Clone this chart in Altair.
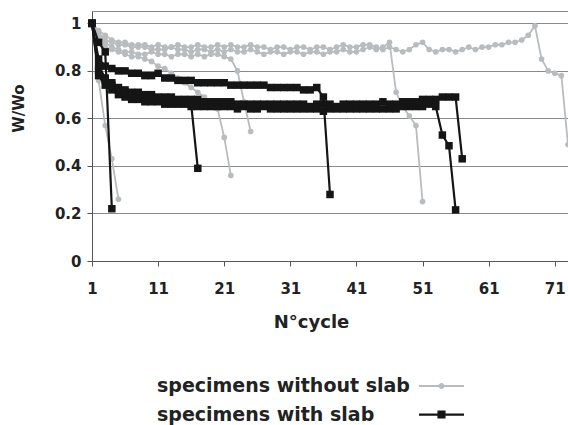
import altair as alt
import pandas as pd

LBL_WO = "specimens without slab"
LBL_W = "specimens with slab"
GRAY = "#b8bcbe"
BLACK = "#151515"

X_TICKS = [1, 11, 21, 31, 41, 51, 61, 71]
Y_TICKS = [0, 0.2, 0.4, 0.6, 0.8, 1.0]

# W/Wo per cycle (cycle 1, 2, 3, ...) for each specimen without slab
wo_a = [1.00, 0.76, 0.57, 0.43, 0.26]
wo_b = [1.00, 0.93, 0.90, 0.89, 0.88, 0.87, 0.86, 0.86, 0.85, 0.84,
        0.82, 0.81, 0.79, 0.77, 0.75, 0.73, 0.71, 0.69, 0.66, 0.64,
        0.52, 0.36]
wo_c = [1.00, 0.95, 0.92, 0.90, 0.89, 0.88, 0.88, 0.87, 0.87, 0.88,
        0.87, 0.87, 0.86, 0.87, 0.87, 0.86, 0.87, 0.86, 0.87, 0.87,
        0.86, 0.85, 0.80, 0.67, 0.545]
wo_d = [1.00, 0.96, 0.93, 0.92, 0.91, 0.91, 0.90, 0.90, 0.90, 0.89,
        0.89, 0.89, 0.90, 0.89, 0.89, 0.88, 0.89, 0.89, 0.88, 0.89,
        0.88, 0.89, 0.88, 0.88, 0.89, 0.88, 0.87, 0.88, 0.88, 0.87,
        0.88, 0.88, 0.87, 0.88, 0.88, 0.87, 0.88, 0.88, 0.89, 0.88,
        0.88, 0.89, 0.90, 0.89, 0.90, 0.92, 0.71, 0.65, 0.61, 0.57,
        0.25]
wo_e = [1.00, 0.97, 0.95, 0.93, 0.92, 0.92, 0.91, 0.91, 0.91, 0.90,
        0.91, 0.90, 0.90, 0.91, 0.90, 0.90, 0.91, 0.90, 0.90, 0.91,
        0.90, 0.91, 0.90, 0.90, 0.91, 0.90, 0.90, 0.89, 0.90, 0.90,
        0.89, 0.90, 0.90, 0.89, 0.90, 0.90, 0.89, 0.90, 0.91, 0.90,
        0.90, 0.91, 0.91, 0.90, 0.89, 0.90, 0.89, 0.88, 0.89, 0.91,
        0.92, 0.89, 0.88, 0.89, 0.89, 0.88, 0.89, 0.90, 0.89, 0.90,
        0.90, 0.91, 0.91, 0.92, 0.92, 0.93, 0.95, 0.99, 0.85, 0.80,
        0.79, 0.78, 0.49]

# W/Wo per cycle for each specimen with slab
w_a = [1.00, 0.92, 0.88, 0.22]
w_b = [1.00, 0.85, 0.82, 0.81, 0.80, 0.80, 0.79, 0.79, 0.78, 0.78,
       0.79, 0.77, 0.77, 0.76, 0.76, 0.76, 0.75, 0.75, 0.75, 0.75,
       0.75, 0.74, 0.74, 0.74, 0.74, 0.74, 0.74, 0.73, 0.73, 0.73,
       0.73, 0.73, 0.72, 0.72, 0.73, 0.69, 0.28]
w_c = [1.00, 0.80, 0.76, 0.74, 0.72, 0.71, 0.70, 0.70, 0.69, 0.69,
       0.68, 0.68, 0.68, 0.67, 0.67, 0.66, 0.39]
w_d = [1.00, 0.78, 0.74, 0.72, 0.70, 0.69, 0.68, 0.68, 0.67, 0.67,
       0.67, 0.66, 0.66, 0.66, 0.66, 0.65, 0.65, 0.65, 0.65, 0.65,
       0.65, 0.65, 0.64, 0.65, 0.64, 0.64, 0.65, 0.64, 0.64, 0.64,
       0.64, 0.64, 0.64, 0.64, 0.64, 0.63, 0.64, 0.64, 0.64, 0.64,
       0.64, 0.64, 0.64, 0.64, 0.64, 0.64, 0.64, 0.65, 0.65, 0.65,
       0.65, 0.66, 0.65, 0.53, 0.485, 0.215]
w_e = [1.00, 0.82, 0.77, 0.75, 0.73, 0.72, 0.71, 0.71, 0.70, 0.70,
       0.69, 0.69, 0.69, 0.68, 0.68, 0.68, 0.68, 0.67, 0.67, 0.67,
       0.67, 0.67, 0.66, 0.66, 0.66, 0.66, 0.66, 0.66, 0.66, 0.66,
       0.66, 0.66, 0.66, 0.65, 0.66, 0.66, 0.66, 0.65, 0.66, 0.66,
       0.66, 0.66, 0.66, 0.66, 0.67, 0.66, 0.66, 0.67, 0.67, 0.67,
       0.68, 0.68, 0.68, 0.69, 0.69, 0.69, 0.43]

series = [
    (LBL_WO, "wo_a", wo_a), (LBL_WO, "wo_b", wo_b), (LBL_WO, "wo_c", wo_c),
    (LBL_WO, "wo_d", wo_d), (LBL_WO, "wo_e", wo_e),
    (LBL_W, "w_a", w_a), (LBL_W, "w_b", w_b), (LBL_W, "w_c", w_c),
    (LBL_W, "w_d", w_d), (LBL_W, "w_e", w_e),
]
rows = []
for group, spec, vals in series:
    for i, v in enumerate(vals):
        rows.append({"cycle": i + 1, "value": v, "specimen": spec, "group": group})
df = pd.DataFrame(rows)

FONT = "DejaVu Sans"

x_enc = alt.X(
    "cycle:Q",
    scale=alt.Scale(domain=[1, 73], nice=False, zero=False),
    axis=alt.Axis(
        values=X_TICKS, format="d", title="N°cycle", grid=False,
        labelOverlap=False, labelFlush=False, tickSize=5, labelPadding=15,
        titleX=219, titleY=66, titleBaseline="alphabetic",
    ),
)
y_enc = alt.Y(
    "value:Q",
    scale=alt.Scale(domain=[0, 1.052], nice=False),
    axis=alt.Axis(
        values=Y_TICKS, format="~g", title="W/Wo", grid=True,
        tickSize=5, labelPadding=6,
        titleX=-74, titleY=97, titleAngle=270, titleAlign="center",
        titleBaseline="middle",
    ),
)

base = alt.Chart(df).encode(x=x_enc, y=y_enc, detail="specimen:N")
wo = base.transform_filter(alt.datum.group == LBL_WO)
wi = base.transform_filter(alt.datum.group == LBL_W)

gray_lines = wo.mark_line(strokeWidth=1.8, color=GRAY)
gray_pts = wo.mark_circle(size=32, opacity=1, color=GRAY)
black_lines = wi.mark_line(strokeWidth=2.2, color=BLACK)
black_pts = wi.mark_square(size=56, opacity=1, color=BLACK)

# legend symbols: a short line with the series marker in its middle
SYM_WO = ("M-1.5,-0.06H1.5V0.06H-1.5Z "
          "M-0.2,0A0.2,0.2 0 1,1 0.2,0A0.2,0.2 0 1,1 -0.2,0Z")
SYM_W = "M-1.5,-0.075H1.5V0.075H-1.5Z M-0.27,-0.27H0.27V0.27H-0.27Z"


def make_legend():
    return alt.Legend(
        title=None, orient="none", legendX=333.5, legendY=359,
        direction="vertical", symbolSize=900, labelAlign="left",
        labelOffset={"expr": "-300.5"}, labelLimit=500,
        rowPadding=2.5,
        labelFont=FONT, labelFontWeight="bold", labelFontSize=19,
        labelColor="#222",
    )


legend_layer = alt.Chart(df).transform_filter("false").mark_point(
    filled=True, opacity=1
).encode(
    x=alt.X("cycle:Q"),
    y=alt.Y("value:Q"),
    fill=alt.Fill(
        "group:N",
        scale=alt.Scale(domain=[LBL_WO, LBL_W], range=[GRAY, BLACK]),
        legend=make_legend(),
    ),
    shape=alt.Shape(
        "group:N",
        scale=alt.Scale(domain=[LBL_WO, LBL_W], range=[SYM_WO, SYM_W]),
        legend=make_legend(),
    ),
)

chart = alt.layer(gray_lines, gray_pts, black_lines, black_pts, legend_layer).properties(
    width=476, height=250,
    autosize=alt.AutoSizeParams(type="none"),
    padding={"left": 92, "top": 11, "right": 0, "bottom": 164},
    background="white",
).configure_view(
    stroke="#8a8a8a", strokeWidth=1,
).configure_axis(
    domainColor="#555", tickColor="#555", gridColor="#8a8a8a", gridWidth=1,
    labelFont=FONT, labelFontWeight="bold", labelFontSize=15, labelColor="#222",
    titleFont=FONT, titleFontWeight="bold", titleColor="#222",
).configure_axisX(
    titleFontSize=18,
).configure_axisY(
    titleFontSize=15,
)

chart.save("out.html", embed_options={"renderer": "svg", "actions": False})
